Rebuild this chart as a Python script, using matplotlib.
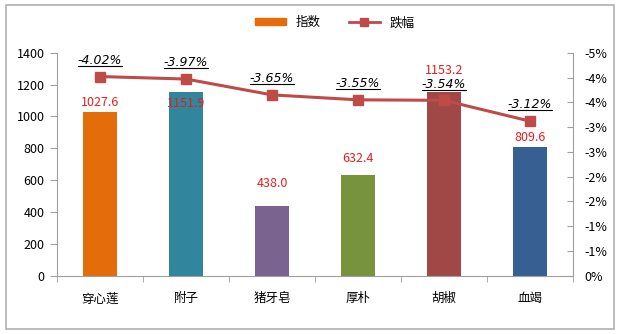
import matplotlib.pyplot as plt
import numpy as np
from matplotlib.patches import Rectangle
from matplotlib.lines import Line2D
from matplotlib.ticker import FuncFormatter

plt.rcParams['font.family'] = ['Noto Sans CJK SC', 'DejaVu Sans']

# data
herbs = ['穿心莲', '附子', '猪牙皂', '厚朴', '胡椒', '血竭']
index_vals = [1027.6, 1151.9, 438.0, 632.4, 1153.2, 809.6]
change_pct = [-4.02, -3.97, -3.65, -3.55, -3.54, -3.12]
bar_colors = ['#E46C0A', '#31859C', '#7A6390', '#77933C', '#A04846', '#376092']
# where the red value labels sit (left axis units)
label_y = [1090, 1084, 582, 733, 1290, 871]

fig = plt.figure(figsize=(6.2, 3.34), dpi=100)
ax = fig.add_axes([0.092, 0.1746, 0.832, 0.6674])
x = np.arange(len(herbs))

ax.bar(x, index_vals, width=0.4, color=bar_colors, zorder=2)
for i, v in enumerate(index_vals):
    ax.text(x[i], label_y[i], '%.1f' % v, color='#E0201E', fontsize=9,
            ha='center', va='center', zorder=5)

ax.set_xlim(-0.5, len(herbs) - 0.5)
ax.set_ylim(0, 1400)
ax.set_yticks(np.arange(0, 1401, 200))
ax.set_xticks(x)
ax.set_xticklabels(herbs, fontsize=9)
ax.set_xticks(np.arange(-0.5, len(herbs), 1), minor=True)
ax.tick_params(axis='x', which='major', length=0, pad=12)
ax.tick_params(axis='x', which='minor', length=4, color='#A0A0A0')
ax.tick_params(axis='y', length=5, color='#A0A0A0', labelsize=9, pad=4)
for s in ['top', 'right']:
    ax.spines[s].set_visible(False)
for s in ['left', 'bottom']:
    ax.spines[s].set_color('#A0A0A0')

ax2 = ax.twinx()
ax2.set_ylim(0, -4.5)
ax2.set_yticks(np.arange(0, -4.51, -0.5))
ax2.yaxis.set_major_formatter(FuncFormatter(
    lambda v, p: '%d%%' % (-int(np.floor(abs(v) + 0.5))) if abs(v) > 1e-9 else '0%'))
ax2.tick_params(axis='y', direction='in', length=4, color='#A0A0A0', labelsize=9, pad=8)
for s in ['top', 'left', 'bottom']:
    ax2.spines[s].set_visible(False)
ax2.spines['right'].set_color('#A0A0A0')

line_color = '#BE4B48'
ax2.plot(x, change_pct, color=line_color, lw=2.2, marker='s', ms=7, zorder=3)
for i, v in enumerate(change_pct):
    t = ax2.annotate('%.2f%%' % v, (x[i], v), xytext=(0, 7), textcoords='offset points',
                     ha='center', va='bottom', fontsize=9, style='italic',
                     family=['DejaVu Sans'])

# underline labels
fig.canvas.draw()
r = fig.canvas.get_renderer()
for t in ax2.texts:
    bb = t.get_window_extent(r)
    fig.add_artist(Line2D([bb.x0 / 620, bb.x1 / 620], [(bb.y0 + 1) / 334] * 2,
                          color='black', lw=0.8, transform=fig.transFigure))

handles = [Rectangle((0, 0), 1, 1, color='#E46C0A'),
           Line2D([], [], color=line_color, lw=2, marker='s', ms=6)]
fig.legend(handles, ['指数', '跌幅'], loc='center', bbox_to_anchor=(0.54, 0.932),
           ncol=2, frameon=False, fontsize=9, handlelength=2.5, columnspacing=2.2,
           handleheight=0.5)

fig.add_artist(Rectangle((6 / 620, 5 / 334), 608 / 620, 324 / 334, fill=False,
                         edgecolor='#B0B0B0', lw=1.2, transform=fig.transFigure))

fig.savefig('out.png', dpi=100)
